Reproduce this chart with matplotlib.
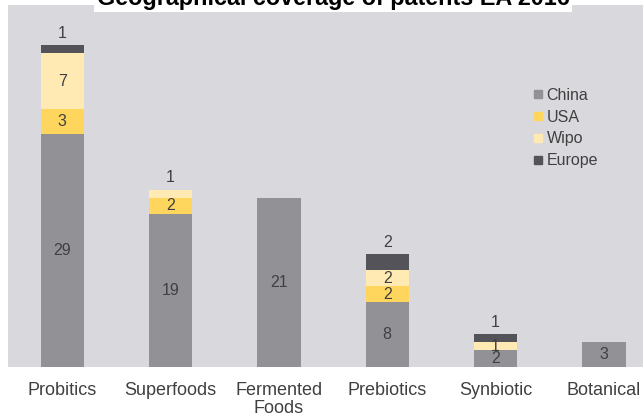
import matplotlib
matplotlib.use("Agg")
import matplotlib.pyplot as plt
from matplotlib.lines import Line2D
import numpy as np

plt.rcParams['font.family'] = ['Liberation Sans', 'DejaVu Sans']

categories = ["Probitics", "Superfoods", "Fermented\nFoods", "Prebiotics", "Synbiotic", "Botanical"]
series_names = ["China", "USA", "Wipo", "Europe"]
china = [29, 19, 21, 8, 2, 3]
usa = [3, 2, 0, 2, 0, 0]
wipo = [7, 1, 0, 2, 1, 0]
europe = [1, 0, 0, 2, 1, 0]
colors = ["#929196", "#fed65e", "#ffeab3", "#545359"]

title = "Geographical coverage of patents EA 2016"

bg = "#d9d8dd"
txt = "#404040"

fig = plt.figure(figsize=(6.43, 4.17), dpi=100)
ax = fig.add_axes([8 / 643, 1 - 366.5 / 417, 1 - 8 / 643, (366.5 - 5) / 417])
ax.set_facecolor(bg)

x = np.arange(len(categories))
width = 0.4
data = [china, usa, wipo, europe]
bottom = np.zeros(len(categories))
for vals, col, name in zip(data, colors, series_names):
    vals = np.array(vals, dtype=float)
    ax.bar(x, vals, width, bottom=bottom, color=col, label=name, zorder=2)
    bottom += vals

# value labels: centred in each segment, the topmost segment labelled above the bar
totals = bottom.copy()
bottom = np.zeros(len(categories))
for vals in data:
    vals = np.array(vals, dtype=float)
    for i, v in enumerate(vals):
        if v <= 0:
            continue
        top = bottom[i] + v
        if np.isclose(top, totals[i]) and len([d[i] for d in data if d[i] > 0]) > 1:
            ax.text(x[i], top + 0.55, f"{int(v)}", ha="center", va="bottom",
                    fontsize=11.5, color=txt, zorder=3)
        else:
            ax.text(x[i], bottom[i] + v / 2, f"{int(v)}", ha="center", va="center",
                    fontsize=11.5, color=txt, zorder=3)
    bottom += vals

ax.set_xlim(-0.5, 5.5 - 15 / 108.3)
ax.set_ylim(0, 45)
ax.set_yticks([])
ax.set_xticks(x)
ax.set_xticklabels(categories, fontsize=13, color=txt, linespacing=1.1)
ax.tick_params(axis="x", length=0, pad=11)
for s in ax.spines.values():
    s.set_visible(False)

handles = [Line2D([], [], marker="s", linestyle="none", markersize=6,
                  markerfacecolor=c, markeredgecolor=c) for c in colors]
ax.legend(handles, series_names, loc="upper left", bbox_to_anchor=(525 / 635, 1 - (88 - 5) / 361.5),
          frameon=False, fontsize=11.5, handlelength=0.6, handletextpad=0.25,
          labelspacing=0.42, borderpad=0, borderaxespad=0, labelcolor=txt)

fig.text(333 / 643, 1 - 5 / 417, title, ha="center", va="baseline", fontsize=16.8,
         fontweight="bold", color="black",
         bbox=dict(facecolor="white", edgecolor="none", pad=1.5), zorder=5)

fig.savefig("out.png", dpi=100, facecolor="white")
